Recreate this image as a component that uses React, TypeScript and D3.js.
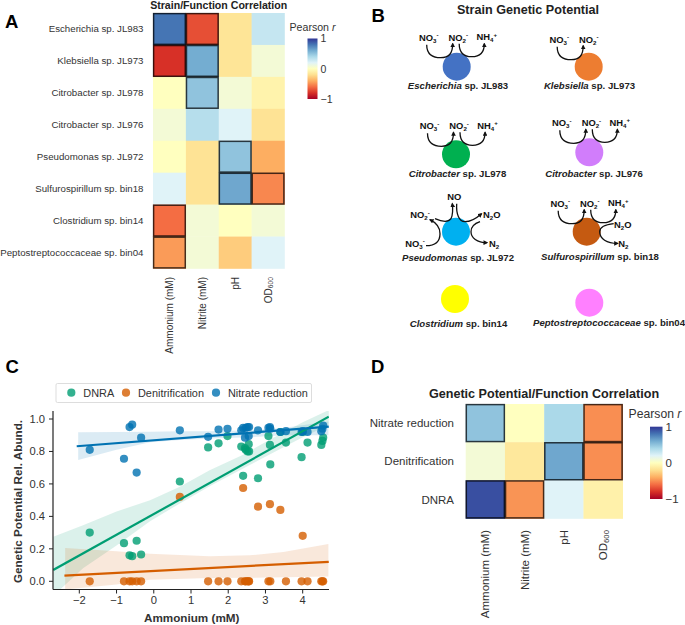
import { scaleBand, scaleLinear, schemeRdYlBu, area, line, range } from "d3";

const FONT = "'Liberation Sans', Arial, sans-serif";
const TEXT = "#333";

// heatmaps
const measures = ["Ammonium (mM)", "Nitrite (mM)", "pH", "OD600"];
const strains = [
  "Escherichia sp. JL983",
  "Klebsiella sp. JL973",
  "Citrobacter sp. JL978",
  "Citrobacter sp. JL976",
  "Pseudomonas sp. JL972",
  "Sulfurospirillum sp. bin18",
  "Clostridium sp. bin14",
  "Peptostreptococcaceae sp. bin04",
];
const strainR = [
  [0.8, -0.7, -0.17, 0.3],
  [-0.8, 0.6, -0.17, 0.08],
  [0, 0.5, 0.08, -0.08],
  [0.08, 0.36, 0.2, -0.18],
  [0, -0.18, 0.5, -0.4],
  [0.2, -0.18, 0.62, -0.52],
  [-0.6, 0.08, 0, 0.08],
  [-0.46, 0.08, -0.28, 0.2],
];
const strainSig = [
  [1, 1, 0, 0],
  [1, 1, 0, 0],
  [0, 1, 0, 0],
  [0, 0, 0, 0],
  [0, 0, 1, 0],
  [0, 0, 1, 1],
  [1, 0, 0, 0],
  [1, 0, 0, 0],
];
const pathways = ["Nitrate reduction", "Denitrification", "DNRA"];
const pathwayR = [
  [0.5, 0, 0.4, -0.5],
  [0.08, -0.15, 0.62, -0.5],
  [0.92, -0.48, 0.2, -0.09],
];
const pathwaySig = [
  [1, 0, 0, 1],
  [0, 0, 1, 1],
  [1, 1, 0, 0],
];

// scatter
const ammonium = [-1.72, -0.8, -0.65, -0.58, -0.46, -0.34, 0.7, 1.46, 1.74, 1.98, 2.35, 2.4, 2.45, 2.47, 2.52, 2.55, 2.56, 2.8, 3.08, 3.12, 3.13, 3.4, 3.55, 3.97, 4.0, 4.13, 4.5, 4.53, 4.55];
const dnra = [0.3, 0.235, 0.16, 0.155, 0.25, 0.165, 0.615, 0.825, 0.85, 0.895, 0.83, 0.65, 0.82, 0.81, 0.8, 0.845, 0.8, 0.635, 0.895, 0.84, 0.72, 0.92, 0.855, 0.765, 0.92, 0.855, 0.84, 0.865, 0.885];
const denitrification = [0, 0, 0, 0, 0, 0, 0.52, 0, 0, 0, 0, 0.575, 0, 0, 0, 0, 0, 0.46, 0, 0.475, 0, 0.44, 0, 0, 0.28, 0, 0, 0, 0];
const nitrate = [0.81, 0.755, 0.95, 0.965, 0.67, 0.885, 0.93, 0.89, 0.935, 0.94, 0.93, 0.945, 0.885, 0.945, 0.95, 0.895, 0.95, 0.93, 0.945, 0.95, 0.94, 0.92, 0.925, 0.92, 0.925, 0.92, 0.925, 0.94, 0.96];

const dnraFitX = [-2.7, 4.7];
const dnraFitY = [0.07, 1.014];
const denitFitX = [-2.4, 4.7];
const denitFitY = [0.035, 0.12];
const nitrateFitX = [-2.07, 4.7];
const nitrateFitY = [0.832, 0.953];

const dnraBandX = [-2.7, -1.9, -1, -0.1, 0.7, 1.5, 2.4, 3.1, 4, 4.7];
const dnraUpper = [0.275, 0.345, 0.43, 0.5, 0.583, 0.685, 0.78, 0.87, 0.98, 1.055];
const dnraLower = [-0.09, 0.08, 0.22, 0.37, 0.48, 0.585, 0.695, 0.78, 0.887, 0.963];
const denitBandX = [-2.38, -1, -0.1, 1.5, 2.58, 3.48, 4.69];
const denitUpper = [0.205, 0.185, 0.17, 0.155, 0.16, 0.18, 0.23];
const denitLower = [-0.05, -0.02, 0.01, 0.02, 0.022, 0.025, 0.03];
const nitrateBandX = [-2.03, -1, -0.1, 0.7, 1.5, 2.58, 3.48, 4.69];
const nitrateUpper = [0.918, 0.92, 0.922, 0.924, 0.925, 0.93, 0.945, 0.985];
const nitrateLower = [0.747, 0.81, 0.856, 0.87, 0.88, 0.887, 0.9, 0.9];

const scatterSeries = [
  { name: "DNRA", color: "#009e73", y: dnra, fitX: dnraFitX, fitY: dnraFitY, bandX: dnraBandX, upper: dnraUpper, lower: dnraLower },
  { name: "Denitrification", color: "#d55e00", y: denitrification, fitX: denitFitX, fitY: denitFitY, bandX: denitBandX, upper: denitUpper, lower: denitLower },
  { name: "Nitrate reduction", color: "#0072b2", y: nitrate, fitX: nitrateFitX, fitY: nitrateFitY, bandX: nitrateBandX, upper: nitrateUpper, lower: nitrateLower },
];
const xTicks = [-2, -1, 0, 1, 2, 3, 4];
const yTicks = [0, 0.2, 0.4, 0.6, 0.8, 1];

// genetic potential panel
const nodeGenus = ["Escherichia", "Klebsiella", "Citrobacter ", "Citrobacter ", "Pseudomonas", "Sulfurospirillum", "Clostridium", "Peptostreptococcaceae"];
const nodeSuffix = [" sp. JL983", " sp. JL973", " sp. JL978", " sp. JL976", " sp. JL972", " sp. bin18", " sp. bin14", " sp. bin04"];
const nodeKind = ["dnra", "nar", "dnra", "dnra", "denit", "both", "none", "none"];
const nodeColors = ["#4472c4", "#ed7d31", "#00b050", "#d17dfb", "#00b0f0", "#c55a11", "#ffff00", "#ff80ff"];

const nodeX = [456.7, 588.7, 456, 589.3, 456, 586.7, 455, 589.3];
const nodeY = [66.7, 66.7, 154.3, 152.3, 231.7, 231.7, 299, 302.7];
const nodeShiftX = [0, -1.5, 1.5, 0.5, 0, 1.5, 0, 0];
const nodeShiftY = [0, 2, 1, 0, 0, 1, 0, 0];
const nameX = [458, 589.5, 457.5, 594, 458, 600, 458.5, 609];
const nameY = [89, 88.5, 177, 177, 261, 259.5, 327, 326];

const colorDomain = range(0, 11).map((k) => -1 + k / 5);
const heatColor = scaleLinear<string>().domain(colorDomain).range(schemeRdYlBu[11]);

function Formula({ x, y, base, sub, sup, tail, size = 9.4 }: { x: number; y: number; base: string; sub?: string; sup?: string; tail?: string; size?: number }) {
  return (
    <text x={x} y={y} textAnchor="middle" fontSize={size} fontWeight={700} fill="#111" fontFamily={FONT}>
      {base}
      {sub && <tspan fontSize={size * 0.65} dy={2}>{sub}</tspan>}
      {sup && <tspan fontSize={size * 0.65} dy={sub ? -5.5 : -3.5}>{sup}</tspan>}
      {tail && <tspan dy={-2}>{tail}</tspan>}
    </text>
  );
}

function Arrow({ d }: { d: string }) {
  return <path d={d} fill="none" stroke="#111" strokeWidth={1.3} markerEnd="url(#arrow)" />;
}

function Node({ i }: { i: number }) {
  const cx = nodeX[i];
  const cy = nodeY[i];
  const kind = nodeKind[i];
  const hasNar = kind === "dnra" || kind === "nar" || kind === "both";
  const hasNrf = kind === "dnra" || kind === "both";
  return (
    <g>
      <circle cx={cx} cy={cy} r={14} fill={nodeColors[i]} />
      <g transform={`translate(${cx},${cy})`}>
        {hasNar && (
          <g transform={`translate(${nodeShiftX[i]},${nodeShiftY[i]})`}>
            <Formula x={-28} y={-26} base="NO" sub="3" sup="-" />
            <Formula x={1.6} y={-26} base="NO" sub="2" sup="-" />
            <Arrow d="M-30,-22 C-30,-12 -24,-9 -16,-9 C-8,-9 -4,-13 -4,-23" />
          </g>
        )}
        {hasNrf && (
          <g transform={`translate(${nodeShiftX[i]},${nodeShiftY[i]})`}>
            <Formula x={30} y={-26.5} base="NH" sub="4" sup="+" />
            <Arrow d="M2.5,-23 C2.5,-13 8,-10 15,-10 C23,-10 27.6,-14 27.6,-23" />
          </g>
        )}
        {kind === "denit" && (
          <>
            <Formula x={-1.7} y={-31.7} base="NO" />
            <Formula x={-36} y={-13.4} base="NO" sub="2" sup="-" />
            <Formula x={35.7} y={-13.4} base="N" sub="2" tail="O" />
            <Formula x={-41} y={15} base="NO" sub="3" sup="-" />
            <Formula x={38} y={15} base="N" sub="2" />
            <Arrow d="M-30,14 C-20,14 -16,9 -16,2 C-16,-5 -20,-9 -26,-12" />
            <Arrow d="M-21,-13 C-14,-10 -8,-9 -5,-13 C-3,-17 -3,-22 -3.7,-28" />
            <Arrow d="M0.7,-28 C0,-18 3,-10 9,-10 C15,-10 21,-14 25.5,-18" />
            <Arrow d="M24,-10 C18,-8 15,-4 15,0 C15,6 21,11 31,11" />
          </>
        )}
        {kind === "both" && (
          <>
            <Formula x={36} y={-4} base="N" sub="2" tail="O" />
            <Formula x={36.7} y={15.6} base="N" sub="2" />
            <Arrow d="M27,-8 C18,-7 13,-4 13,0 C13,7 20,11.7 31,11.7" />
          </>
        )}
      </g>
      <text x={nameX[i]} y={nameY[i]} textAnchor="middle" fontSize={9.6} fontWeight={700} fill="#222" fontFamily={FONT}>
        <tspan fontStyle="italic">{nodeGenus[i]}</tspan>
        {nodeSuffix[i]}
      </text>
    </g>
  );
}

function ColorBar({ x, y0, y1, width, id, titleX, titleY, titleSize, tickSize }: { x: number; y0: number; y1: number; width: number; id: string; titleX: number; titleY: number; titleSize: number; tickSize: number }) {
  const scale = scaleLinear().domain([-1, 1]).range([y1, y0]);
  return (
    <g fontFamily={FONT} fill={TEXT}>
      <text x={titleX} y={titleY} fontSize={titleSize} textAnchor="middle">
        Pearson <tspan fontStyle="italic">r</tspan>
      </text>
      <defs>
        <linearGradient id={id} x1="0" x2="0" y1="1" y2="0">
          {colorDomain.map((v, k) => (
            <stop key={k} offset={k / 10} stopColor={heatColor(v)} />
          ))}
        </linearGradient>
      </defs>
      <rect x={x} y={y0} width={width} height={y1 - y0} fill={`url(#${id})`} />
      {[1, 0, -1].map((t) => (
        <text key={t} x={x + width + 3} y={scale(t) + tickSize * 0.36} fontSize={tickSize}>
          {t === -1 ? "\u22121" : t}
        </text>
      ))}
    </g>
  );
}

function Heatmap({ rows, values, sig, x0, x1, y0, y1, labelX, colTop, rowSize, colSize }: { rows: string[]; values: number[][]; sig: number[][]; x0: number; x1: number; y0: number; y1: number; labelX: number; colTop: number; rowSize: number; colSize: number }) {
  const xs = scaleBand<string>().domain(measures).range([x0, x1]);
  const ys = scaleBand<string>().domain(rows).range([y0, y1]);
  const w = xs.bandwidth();
  const h = ys.bandwidth();
  return (
    <g fontFamily={FONT}>
      {rows.map((row, r) =>
        measures.map((m, c) => (
          <rect key={m} x={xs(m)} y={ys(row)} width={w + 0.3} height={h + 0.3} fill={heatColor(values[r][c])} />
        )),
      )}
      {rows.map((row, r) =>
        measures.map((m, c) =>
          sig[r][c] ? (
            <rect key={m} x={(xs(m) ?? 0) + 0.6} y={(ys(row) ?? 0) + 0.6} width={w - 1.2} height={h - 1.2} fill="none" stroke="#000" strokeOpacity={0.72} strokeWidth={1.5} />
          ) : null,
        ),
      )}
      {rows.map((row) => (
        <text key={row} x={labelX} y={(ys(row) ?? 0) + h / 2 + rowSize * 0.36} textAnchor="end" fontSize={rowSize} fill={TEXT}>
          {row}
        </text>
      ))}
      {measures.map((m) => {
        const cx = (xs(m) ?? 0) + w / 2;
        return (
          <text key={m} transform={`translate(${cx + colSize * 0.36},${colTop}) rotate(-90)`} textAnchor="end" fontSize={colSize} fill={TEXT}>
            {m === "OD600" ? (
              <>
                OD<tspan fontSize={colSize * 0.68} dy={1.5}>600</tspan>
              </>
            ) : (
              m
            )}
          </text>
        );
      })}
    </g>
  );
}

function Scatter() {
  const x = scaleLinear().domain([-2, 4]).range([79.3, 302.7]);
  const y = scaleLinear().domain([0, 1]).range([581.3, 419]);
  const xMin = 53;
  const xMax = 329;
  const yBottom = 589.5;
  const yTop = 411;
  return (
    <g fontFamily={FONT}>
      <defs>
        <clipPath id="plotClip">
          <rect x={xMin} y={yTop} width={xMax - xMin} height={yBottom - yTop} />
        </clipPath>
      </defs>
      <g clipPath="url(#plotClip)">
        {scatterSeries.map((s) => {
          const band = area<number>()
            .x((d) => x(d))
            .y0((_, i) => y(s.lower[i]))
            .y1((_, i) => y(s.upper[i]));
          return <path key={s.name} d={band(s.bandX) ?? ""} fill={s.color} fillOpacity={0.14} />;
        })}
        {scatterSeries.map((s) => (
          <g key={s.name}>
            {ammonium.map((a, i) => (
              <circle key={i} cx={x(a)} cy={y(s.y[i])} r={4.1} fill={s.color} fillOpacity={0.8} />
            ))}
          </g>
        ))}
        {scatterSeries.map((s) => {
          const fit = line<number>()
            .x((d) => x(d))
            .y((_, i) => y(s.fitY[i]));
          return <path key={s.name} d={fit(s.fitX) ?? ""} fill="none" stroke={s.color} strokeWidth={2.2} />;
        })}
      </g>
      <line x1={xMin} x2={xMin} y1={yTop} y2={yBottom} stroke="#222" strokeWidth={1.2} />
      <line x1={xMin} x2={xMax} y1={yBottom} y2={yBottom} stroke="#222" strokeWidth={1.2} />
      {xTicks.map((t) => (
        <g key={t}>
          <line x1={x(t)} x2={x(t)} y1={yBottom} y2={yBottom + 4} stroke="#222" />
          <text x={x(t)} y={yBottom + 14.5} textAnchor="middle" fontSize={11.2} fill={TEXT}>
            {t < 0 ? `\u2212${-t}` : t}
          </text>
        </g>
      ))}
      {yTicks.map((t) => (
        <g key={t}>
          <line x1={xMin - 4} x2={xMin} y1={y(t)} y2={y(t)} stroke="#222" />
          <text x={xMin - 8} y={y(t) + 4} textAnchor="end" fontSize={11.2} fill={TEXT}>
            {t.toFixed(1)}
          </text>
        </g>
      ))}
      <text x={191.7} y={622} textAnchor="middle" fontSize={11.7} fontWeight={700} fill={TEXT}>
        Ammonium (mM)
      </text>
      <text transform="translate(22,501.5) rotate(-90)" textAnchor="middle" fontSize={11.7} fontWeight={700} fill={TEXT}>
        Genetic Potential Rel. Abund.
      </text>
      <rect x={56} y={383.5} width={255.5} height={19} rx={1.5} fill="#fff" stroke="#ddd" />
      {scatterSeries.map((s, i) => {
        const cxs = [71.3, 126, 216];
        return (
          <g key={s.name}>
            <circle cx={cxs[i]} cy={392.7} r={4.1} fill={s.color} fillOpacity={0.8} />
            <text x={cxs[i] + 12} y={396.5} fontSize={10.9} fill={TEXT}>
              {s.name}
            </text>
          </g>
        );
      })}
    </g>
  );
}

export default function App() {
  return (
    <svg width={685} height={625} viewBox="0 0 685 625" style={{ position: "absolute", left: 0, top: 0, background: "#fff" }}>
      <defs>
        <marker id="arrow" viewBox="0 0 6 6" refX={4.5} refY={3} markerWidth={3.6} markerHeight={3.6} orient="auto">
          <path d="M0,0 L6,3 L0,6 Z" fill="#111" />
        </marker>
      </defs>
      <g fontFamily={FONT} fontWeight={700} fill="#000" fontSize={18.5}>
        <text x={5} y={28}>A</text>
        <text x={371.5} y={21.5}>B</text>
        <text x={5.5} y={373}>C</text>
        <text x={371} y={373}>D</text>
      </g>
      <g fontFamily={FONT} fontWeight={700} fill="#222" textAnchor="middle">
        <text x={218.7} y={8.5} fontSize={10.6}>Strain/Function Correlation</text>
        <text x={528} y={14} fontSize={12.6}>Strain Genetic Potential</text>
        <text x={544} y={398} fontSize={12.6}>Genetic Potential/Function Correlation</text>
      </g>

      <Heatmap rows={strains} values={strainR} sig={strainSig} x0={153} x1={284.5} y0={13} y1={268.5} labelX={143.5} colTop={277} rowSize={9.7} colSize={10} />
      <ColorBar x={307.5} y0={38.5} y1={99} width={10} id="cbA" titleX={312.5} titleY={31} titleSize={10.6} tickSize={10.5} />

      {nodeKind.map((_, i) => (
        <Node key={i} i={i} />
      ))}

      <Scatter />

      <Heatmap rows={pathways} values={pathwayR} sig={pathwaySig} x0={465.7} x1={622.7} y0={404} y1={518.5} labelX={454} colTop={530} rowSize={11.5} colSize={11.5} />
      <ColorBar x={650} y0={426.7} y1={499} width={12.5} id="cbD" titleX={655} titleY={417.7} titleSize={12.2} tickSize={11.5} />
    </svg>
  );
}
